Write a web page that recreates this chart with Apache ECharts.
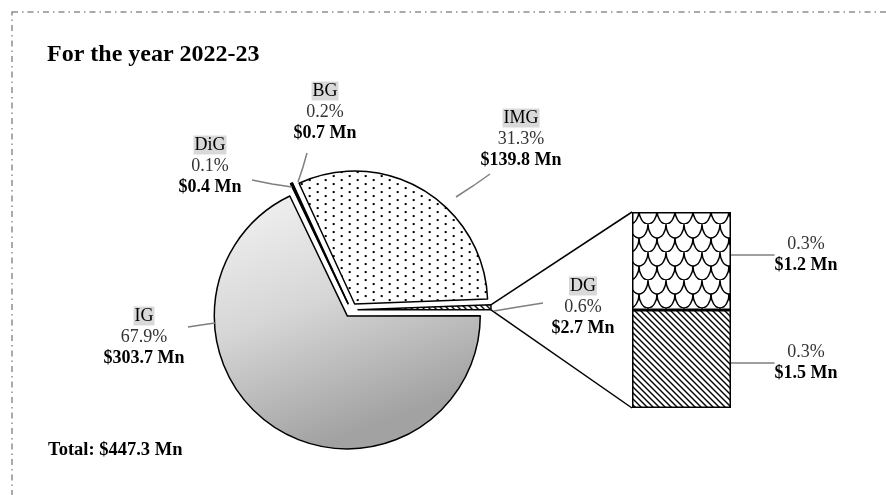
<!DOCTYPE html>
<html><head><meta charset="utf-8">
<script src="https://cdn.jsdelivr.net/npm/echarts@6/dist/echarts.min.js"></script>
<style>html,body{margin:0;padding:0;background:#fff}#c{width:886px;height:495px}</style>
</head><body><div id="c"></div>
<script>
// ---------- data ----------
const categories = ['DiG', 'BG', 'IMG', 'DG', 'IG'];
const valuesMn = [0.4, 0.7, 139.8, 2.7, 303.7];
const percentLabels = ['0.1%', '0.2%', '31.3%', '0.6%', '67.9%'];
// bar of "DG" (top to bottom)
const barParts = ['DG-a', 'DG-b'];
const barShares = [0.3, 0.3];
const barValuesMn = [1.2, 1.5];
const barPercentLabels = ['0.3%', '0.3%'];
const titleText = 'For the year 2022-23';
const totalText = 'Total: $447.3 Mn';

// ---------- layout / style ----------
const FONT = 'Liberation Serif';
const C = [351, 310], R = 133, OFF = 7, START = 115.6;
const GRID = {left: 632, top: 212, width: 99, height: 196};
const pieLabelPos = {
  DiG: {x: 210, y: 166, line: [[292, 187], [272, 184], [252, 180]]},
  BG:  {x: 325, y: 112, line: [[298, 182], [303, 167], [307, 153]]},
  IMG: {x: 521, y: 139, line: [[456, 197], [473, 186], [490, 174]]},
  DG:  {x: 583, y: 307, line: [[494, 311], [518, 307], [543, 303]]},
  IG:  {x: 144, y: 337, line: [[215, 323], [201, 325], [188, 327]]}
};
const barLabelPos = [
  {x: 806, y: 255, line: [[731, 248], [748, 248], [765, 248]]},
  {x: 806, y: 363, line: [[731, 348], [748, 348], [765, 348]]}
];

function tile(w, h, draw) {
  const c = document.createElement('canvas');
  c.width = w; c.height = h;
  const g = c.getContext('2d');
  g.fillStyle = '#fff'; g.fillRect(0, 0, w, h);
  g.fillStyle = '#000'; g.strokeStyle = '#000';
  draw(g, w, h);
  return c;
}
const dotsPat = tile(16, 8, g => { g.fillRect(1, 1, 2, 2); g.fillRect(9, 5, 2, 2); });
const stripePat = tile(6, 6, g => {
  g.lineWidth = 1.4;
  for (const k of [-6, 0, 6]) { g.beginPath(); g.moveTo(k - 1, -1); g.lineTo(k + 7, 7); g.stroke(); }
});
const scalePat = tile(18, 28, g => {
  g.lineWidth = 1.4;
  const arc = (cx, cy) => { g.beginPath(); g.ellipse(cx, cy, 9, 14, 0, 0, Math.PI); g.stroke(); };
  arc(9, 0); arc(0, 14); arc(18, 14); arc(9, 28);
});
const fills = {
  DiG: '#000', BG: '#000',
  IMG: {image: dotsPat, repeat: 'repeat'},
  DG: {image: stripePat, repeat: 'repeat'},
  IG: {type: 'linear', x: 0, y: 0, x2: 0.35, y2: 1,
       colorStops: [{offset: 0, color: '#f4f4f4'}, {offset: 0.5, color: '#d6d6d6'}, {offset: 1, color: '#a2a2a2'}]}
};
const barFills = [{image: scalePat, repeat: 'repeat'}, {image: stripePat, repeat: 'repeat'}];

const rich = {
  n: {fontFamily: FONT, fontSize: 18, color: '#000', backgroundColor: '#d9d9d9', padding: [1, 1, 0, 1], lineHeight: 21},
  p: {fontFamily: FONT, fontSize: 18, color: '#333', lineHeight: 21},
  v: {fontFamily: FONT, fontSize: 18, color: '#000', fontWeight: 'bold', lineHeight: 21}
};

// connectors from DG slice to bar
const total = valuesMn.reduce((a, b) => a + b, 0);
const iDG = categories.indexOf('DG');
let before = 0; for (let i = 0; i < iDG; i++) before += valuesMn[i];
const a0 = (START - before / total * 360) * Math.PI / 180;
const a1 = (START - (before + valuesMn[iDG]) / total * 360) * Math.PI / 180;
const am = (a0 + a1) / 2;
const vx = C[0] + OFF * Math.cos(am), vy = C[1] - OFF * Math.sin(am);
const pTop = [vx + R * Math.cos(a0), vy - R * Math.sin(a0)];
const pBot = [vx + R * Math.cos(a1), vy - R * Math.sin(a1)];

const chart = echarts.init(document.getElementById('c'), null, {renderer: 'canvas'});
const barSeries = [];
for (let k = barParts.length - 1; k >= 0; k--) {
  const lp = barLabelPos[k];
  barSeries.push({
    type: 'bar', name: barParts[k], stack: 's', barWidth: '100%', silent: true,
    data: [barShares[k]],
    itemStyle: {color: barFills[k], borderColor: '#000', borderWidth: 1.5},
    label: {show: true, position: 'right', formatter: '{p|' + barPercentLabels[k] + '}\n{v|$' + barValuesMn[k].toFixed(1) + ' Mn}', rich: rich, align: 'center'},
    labelLine: {show: true, lineStyle: {color: '#7f7f7f', width: 1.5}},
    labelLayout: () => ({x: lp.x, y: lp.y, align: 'center', verticalAlign: 'middle', labelLinePoints: lp.line})
  });
}

const pieCommon = {type: 'pie', center: C, radius: R, startAngle: START, clockwise: true, silent: true,
  avoidLabelOverlap: false, emphasis: {disabled: true}};

chart.setOption({
  animation: false,
  backgroundColor: '#fff',
  title: [
    {text: titleText, left: 47, top: 43, padding: 0, textStyle: {fontFamily: FONT, fontSize: 24, fontWeight: 'bold', color: '#000'}},
    {text: totalText, left: 48, top: 441, padding: 0, textStyle: {fontFamily: FONT, fontSize: 18.5, fontWeight: 'bold', color: '#000'}}
  ],
  grid: GRID,
  xAxis: {type: 'category', data: ['DG'], show: false},
  yAxis: {type: 'value', min: 0, max: barShares.reduce((a, b) => a + b, 0), show: false},
  graphic: [
    {type: 'rect', shape: {x: 12, y: 12, width: 900, height: 520}, silent: true,
     style: {fill: 'none', stroke: '#8f8f8f', lineWidth: 1.5, lineDash: [6, 4, 1.5, 4]}},
    {type: 'line', shape: {x1: pTop[0], y1: pTop[1], x2: GRID.left, y2: GRID.top}, style: {stroke: '#000', lineWidth: 1.5}, silent: true},
    {type: 'line', shape: {x1: pBot[0], y1: pBot[1], x2: GRID.left, y2: GRID.top + GRID.height}, style: {stroke: '#000', lineWidth: 1.5}, silent: true}
  ],
  series: [Object.assign({}, pieCommon, {
    selectedMode: 'multiple', selectedOffset: OFF,
    data: categories.map((n, i) => ({name: n, value: valuesMn[i], selected: true,
      itemStyle: {color: fills[n], borderColor: '#000', borderWidth: 1.5}})),
    label: {show: false}, labelLine: {show: false}
  }), Object.assign({}, pieCommon, {
    z: 5,
    data: categories.map((n, i) => ({name: n, value: valuesMn[i]})),
    itemStyle: {color: 'rgba(0,0,0,0)', borderWidth: 0},
    label: {show: true, formatter: p => '{n|' + p.name + '}\n{p|' + percentLabels[p.dataIndex] + '}\n{v|$' + valuesMn[p.dataIndex].toFixed(1) + ' Mn}', rich: rich},
    labelLine: {show: true, length: 10, length2: 10, lineStyle: {color: '#7f7f7f', width: 1.5}},
    labelLayout: p => {
      const lp = pieLabelPos[categories[p.dataIndex]];
      return {x: lp.x, y: lp.y, align: 'center', verticalAlign: 'middle', labelLinePoints: lp.line};
    }
  })].concat(barSeries)
});
</script></body></html>
